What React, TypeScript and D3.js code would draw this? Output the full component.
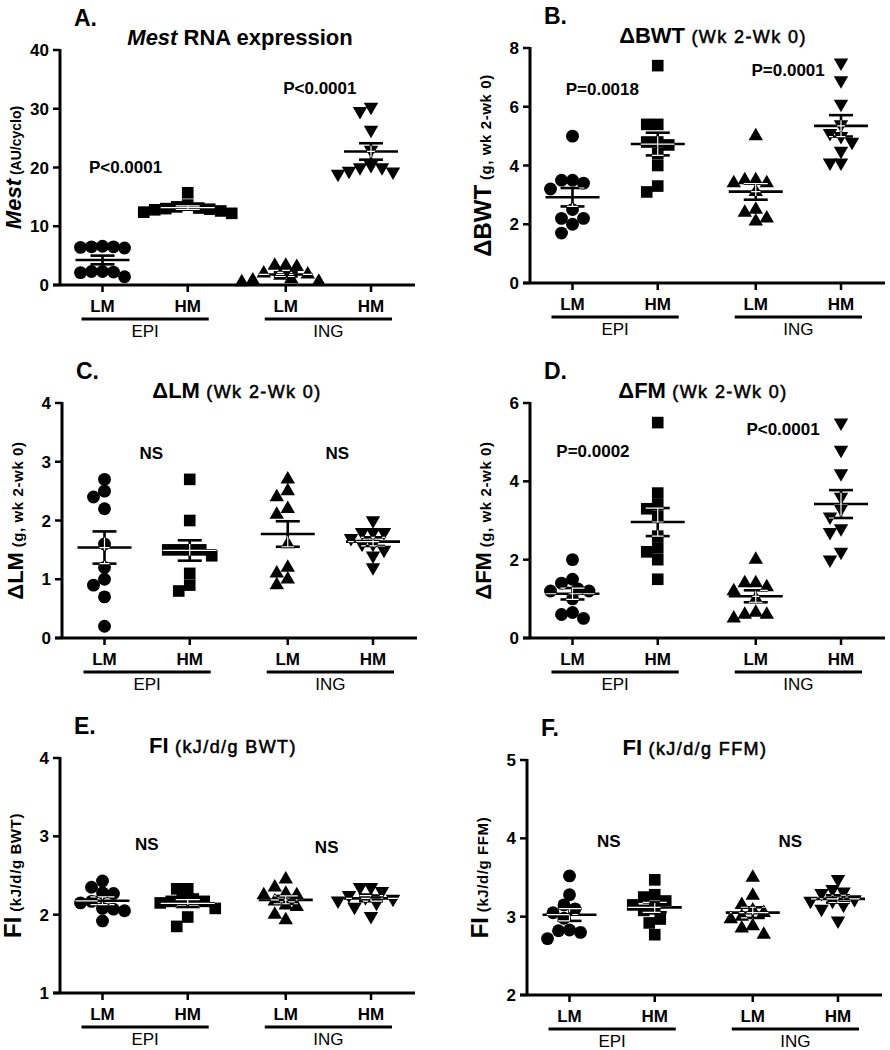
import React from 'react';
import * as d3 from 'd3';

const FONT = 'Arial, "Liberation Sans", Helvetica, sans-serif';

// x categories and tissue groups (shared by all panels)
const xCategories = ['LM', 'HM', 'LM', 'HM'];
const xGroups = ['EPI', 'ING'];

// A. Mest RNA expression (AU/cyclo)
const mestEpiLM = [6.5, 6.4, 6.6, 6.3, 6.5, 2.3, 2.2, 2.3, 2.1, 1.4];
const mestEpiHM = [15.7, 13.6, 13.3, 13.0, 12.8, 12.6, 12.4, 12.2, 12.9, 13.1];
const mestIngLM = [3.3, 3.1, 3.3, 2.0, 1.8, 1.6, 0.8, 0.5, 0.6, 1.0];
const mestIngHM = [30.3, 29.6, 26.4, 23.0, 20.4, 20.0, 19.3, 18.9, 19.4, 20.0];
const mestTicks = [0, 10, 20, 30, 40];

// B. delta BWT (g, wk 2 - wk 0)
const bwtEpiLM = [5.0, 3.5, 3.2, 3.4, 3.5, 2.5, 2.2, 2.2, 2.0, 1.7];
const bwtEpiHM = [7.4, 5.4, 5.4, 4.8, 4.7, 4.8, 4.4, 4.0, 3.3, 3.1];
const bwtIngLM = [5.0, 3.5, 3.4, 3.4, 3.5, 3.1, 2.5, 2.4, 2.1, 2.2];
const bwtIngHM = [7.5, 6.9, 6.1, 5.4, 5.0, 5.1, 4.8, 4.5, 4.1, 4.1];
const bwtTicks = [0, 2, 4, 6, 8];

// C. delta LM (g, wk 2 - wk 0)
const lmEpiLM = [2.7, 2.5, 2.4, 2.2, 1.6, 1.2, 1.0, 0.9, 0.7, 0.2];
const lmEpiHM = [2.7, 2.0, 1.5, 1.5, 1.5, 1.5, 1.4, 1.1, 0.9, 0.8];
const lmIngLM = [2.7, 2.5, 2.4, 2.2, 2.1, 1.6, 1.2, 1.1, 0.9, 1.0];
const lmIngHM = [2.0, 1.8, 1.8, 1.8, 1.7, 1.6, 1.6, 1.5, 1.4, 1.2];
const lmTicks = [0, 1, 2, 3, 4];

// D. delta FM (g, wk 2 - wk 0)
const fmEpiLM = [2.0, 1.4, 1.5, 1.25, 1.2, 1.2, 1.0, 0.65, 0.6, 0.5];
const fmEpiHM = [5.5, 3.7, 3.4, 3.3, 3.1, 2.6, 2.3, 2.2, 2.0, 1.5];
const fmIngLM = [2.0, 1.4, 1.4, 1.3, 1.2, 1.0, 0.6, 0.6, 0.5, 0.65];
const fmIngHM = [5.5, 4.8, 4.2, 3.6, 3.3, 3.1, 2.8, 2.7, 2.2, 2.0];
const fmTicks = [0, 2, 4, 6];

// E. FI (kJ/d/g BWT)
const fiBwtEpiLM = [2.43, 2.35, 2.28, 2.27, 2.17, 2.15, 2.07, 2.05, 2.08, 1.92];
const fiBwtEpiHM = [2.33, 2.33, 2.2, 2.2, 2.17, 2.17, 2.15, 2.08, 1.97, 1.85];
const fiBwtIngLM = [2.45, 2.35, 2.27, 2.25, 2.25, 2.17, 2.12, 2.1, 2.0, 1.93];
const fiBwtIngHM = [2.35, 2.35, 2.3, 2.25, 2.22, 2.2, 2.18, 2.15, 2.1, 1.98];
const fiBwtTicks = [1, 2, 3, 4];

// F. FI (kJ/d/g FFM)
const fiFfmEpiLM = [3.52, 3.28, 3.15, 3.1, 3.05, 2.98, 2.83, 2.82, 2.8, 2.72];
const fiFfmEpiHM = [3.47, 3.28, 3.25, 3.2, 3.15, 3.1, 3.08, 2.97, 2.92, 2.77];
const fiFfmIngLM = [3.5, 3.27, 3.15, 3.08, 3.05, 3.0, 2.97, 2.88, 2.85, 2.77];
const fiFfmIngHM = [3.48, 3.35, 3.32, 3.3, 3.22, 3.2, 3.2, 3.15, 3.1, 2.95];
const fiFfmTicks = [2, 3, 4, 5];

type Run = { text: string; size: number; bold?: boolean; italic?: boolean; spacing?: number; semi?: boolean };
type Note = { text: string; slot: number; value: number };
type Panel = {
  key: string;
  letter: string;
  title: Run[];
  yLabel: Run[];
  ticks: number[];
  series: number[][];
  notes: Note[];
  axisX: number;
  yTop: number;
  titleDx: number;
};

const big = (text: string, italic = false): Run => ({ text, size: 22, bold: true, italic });
const small = (text: string): Run => ({ text, size: 15, bold: true, spacing: 0.6 });
// the bracketed part of each title is a lighter, letter-spaced weight
const paren = (text: string): Run => ({ text, size: 18, semi: true, spacing: 1.4 });

const panels: Panel[] = [
  {
    key: 'a', letter: 'A.',
    title: [{ text: 'Mest', size: 22, bold: true, italic: true }, { text: ' RNA expression', size: 22, bold: true }],
    yLabel: [big('Mest', true), { text: ' (AU/cyclo)', size: 14, bold: true }],
    ticks: mestTicks,
    series: [mestEpiLM, mestEpiHM, mestIngLM, mestIngHM],
    notes: [{ text: 'P<0.0001', slot: 0.27, value: 19.1 }, { text: 'P<0.0001', slot: 2.55, value: 32.5 }],
    axisX: 60, yTop: 50, titleDx: 180,
  },
  {
    key: 'b', letter: 'B.',
    title: [big('\u0394BWT'), paren(' (Wk 2-Wk 0)')],
    yLabel: [{ ...big('\u0394BWT'), size: 24 }, small(' (g, wk 2-wk 0)')],
    ticks: bwtTicks,
    series: [bwtEpiLM, bwtEpiHM, bwtIngLM, bwtIngHM],
    notes: [{ text: 'P=0.0018', slot: 0.35, value: 6.4 }, { text: 'P=0.0001', slot: 2.53, value: 7.04 }],
    axisX: 530, yTop: 48, titleDx: 183,
  },
  {
    key: 'c', letter: 'C.',
    title: [big('\u0394LM'), paren(' (Wk 2-Wk 0)')],
    yLabel: [big('\u0394LM'), small(' (g, wk 2-wk 0)')],
    ticks: lmTicks,
    series: [lmEpiLM, lmEpiHM, lmIngLM, lmIngHM],
    notes: [{ text: 'NS', slot: 0.55, value: 3.04 }, { text: 'NS', slot: 2.73, value: 3.04 }],
    axisX: 62, yTop: 403, titleDx: 175,
  },
  {
    key: 'd', letter: 'D.',
    title: [big('\u0394FM'), paren(' (Wk 2-Wk 0)')],
    yLabel: [big('\u0394FM'), small(' (g, wk 2-wk 0)')],
    ticks: fmTicks,
    series: [fmEpiLM, fmEpiHM, fmIngLM, fmIngHM],
    notes: [{ text: 'P=0.0002', slot: 0.24, value: 4.63 }, { text: 'P<0.0001', slot: 2.47, value: 5.19 }],
    axisX: 530, yTop: 403, titleDx: 173,
  },
  {
    key: 'e', letter: 'E.',
    title: [big('FI'), paren(' (kJ/d/g BWT)')],
    yLabel: [{ ...big('FI'), size: 24 }, small(' (kJ/d/g BWT)')],
    ticks: fiBwtTicks,
    series: [fiBwtEpiLM, fiBwtEpiHM, fiBwtIngLM, fiBwtIngHM],
    notes: [{ text: 'NS', slot: 0.52, value: 2.83 }, { text: 'NS', slot: 2.63, value: 2.79 }],
    axisX: 60, yTop: 758, titleDx: 163,
  },
  {
    key: 'f', letter: 'F.',
    title: [big('FI'), paren(' (kJ/d/g FFM)')],
    yLabel: [{ ...big('FI'), size: 24 }, small(' (kJ/d/g FFM)')],
    ticks: fiFfmTicks,
    series: [fiFfmEpiLM, fiFfmEpiHM, fiFfmIngLM, fiFfmIngHM],
    notes: [{ text: 'NS', slot: 0.46, value: 3.89 }, { text: 'NS', slot: 2.59, value: 3.89 }],
    axisX: 527, yTop: 760, titleDx: 168,
  },
];

const PLOT_H = 235;
const AXIS_LEN = 355;
const SLOTS = [0, 1, 2.15, 3.15];
const SPREAD = 11;

const symbols = [d3.symbolCircle, d3.symbolSquare, d3.symbolTriangle, d3.symbolTriangle];
const symbolSizes = [130, 135, 90, 90];

// simple beeswarm: place points by value, nudging sideways to avoid overlaps
function swarm(values: number[], y: (v: number) => number) {
  const order = d3.range(values.length).sort((a, b) => values[b] - values[a]);
  const placed: [number, number][] = [];
  const offsets: number[] = new Array(values.length).fill(0);
  const candidates = [0];
  for (let k = 1; k < 12; k++) candidates.push(-k * SPREAD / 2, k * SPREAD / 2);
  order.forEach((i) => {
    const py = y(values[i]);
    const dx = candidates.find((c) =>
      placed.every(([qx, qy]) => Math.hypot(qx - c, qy - py) >= SPREAD)) ?? 0;
    placed.push([dx, py]);
    offsets[i] = dx;
  });
  return offsets;
}

const runs = (items: Run[]) =>
  items.map((r, i) => (
    <tspan key={i} fontSize={r.size} fontWeight={r.bold ? 'bold' : 'normal'}
      fontStyle={r.italic ? 'italic' : 'normal'} letterSpacing={r.spacing ?? 0}
      stroke={r.semi ? '#000' : 'none'} strokeWidth={r.semi ? 0.55 : 0}
      style={{ whiteSpace: 'pre' }}>{r.text}</tspan>
  ));

function PanelView({ p }: { p: Panel }) {
  const yBot = p.yTop + PLOT_H;
  const domain = d3.extent(p.ticks) as [number, number];
  const y = d3.scaleLinear().domain(domain).range([yBot, p.yTop]);
  const x = d3.scaleLinear().domain([0, 3.15]).range([p.axisX + 42.5, p.axisX + 311]);

  return (
    <g>
      <text x={p.axisX + 14} y={p.yTop - 24} fontSize={23} fontWeight="bold">{p.letter}</text>
      <text x={p.axisX + p.titleDx} y={p.yTop - 5} textAnchor="middle">{runs(p.title)}</text>
      <text transform={`translate(${p.axisX - 39},${(p.yTop + yBot) / 2}) rotate(-90)`}
        textAnchor="middle">{runs(p.yLabel)}</text>

      {/* y axis */}
      <line x1={p.axisX} x2={p.axisX} y1={p.yTop - 1} y2={yBot} stroke="#000" strokeWidth={3} />
      {p.ticks.map((t) => (
        <g key={t}>
          <line x1={p.axisX - 7} x2={p.axisX} y1={y(t)} y2={y(t)} stroke="#000" strokeWidth={2.5} />
          <text x={p.axisX - 11} y={y(t)} dy="0.36em" textAnchor="end" fontSize={17} fontWeight="bold">{t}</text>
        </g>
      ))}

      {/* x axis */}
      <line x1={p.axisX - 7} x2={p.axisX + AXIS_LEN} y1={yBot} y2={yBot} stroke="#000" strokeWidth={3} />
      {xCategories.map((c, i) => (
        <g key={i}>
          <line x1={x(SLOTS[i])} x2={x(SLOTS[i])} y1={yBot} y2={yBot + 7} stroke="#000" strokeWidth={2.5} />
          <text x={x(SLOTS[i])} y={yBot + 27} textAnchor="middle" fontSize={17} fontWeight="bold">{c}</text>
        </g>
      ))}
      {xGroups.map((g, gi) => {
        const x0 = x(SLOTS[gi * 2]) - 21;
        const x1 = x(SLOTS[gi * 2 + 1]) + 21;
        return (
          <g key={g}>
            <line x1={x0} x2={x1} y1={yBot + 34} y2={yBot + 34} stroke="#000" strokeWidth={3} />
            <text x={(x0 + x1) / 2} y={yBot + 52} textAnchor="middle" fontSize={17}>{g}</text>
          </g>
        );
      })}

      {/* points with mean +/- SEM */}
      {p.series.map((vals, si) => {
        const cx = x(SLOTS[si]);
        const offs = swarm(vals, y);
        const mean = d3.mean(vals) as number;
        const sem = (d3.deviation(vals) as number) / Math.sqrt(vals.length);
        const path = d3.symbol(symbols[si], symbolSizes[si])() as string;
        const rot = si === 3 ? ' rotate(180)' : '';
        const marks = vals.map((v, i) => (
          <path key={i} d={path} transform={`translate(${cx + offs[i]},${y(v)})${rot}`} />
        ));
        const clipId = `clip-${p.key}-${si}`;
        const bars = (w: number, color: string, clip?: string) => (
          <g stroke={color} strokeWidth={w} clipPath={clip}>
            <line x1={cx - 27} x2={cx + 27} y1={y(mean)} y2={y(mean)} />
            <line x1={cx} x2={cx} y1={y(mean + sem)} y2={y(mean - sem)} />
            <line x1={cx - 12} x2={cx + 12} y1={y(mean + sem)} y2={y(mean + sem)} />
            <line x1={cx - 12} x2={cx + 12} y1={y(mean - sem)} y2={y(mean - sem)} />
          </g>
        );
        return (
          <g key={si}>
            <clipPath id={clipId}>{marks}</clipPath>
            {bars(2.6, '#000')}
            <g fill="#000">{marks}</g>
            {bars(1.2, '#fff', `url(#${clipId})`)}
          </g>
        );
      })}

      {p.notes.map((n, i) => (
        <text key={i} x={x(n.slot)} y={y(n.value)} textAnchor="middle" fontSize={17} fontWeight="bold">{n.text}</text>
      ))}
    </g>
  );
}

export default function App() {
  return (
    <svg width={890} height={1050} fontFamily={FONT}
      style={{ position: 'absolute', left: 0, top: 0, background: '#fff' }}>
      {panels.map((p) => <PanelView key={p.key} p={p} />)}
    </svg>
  );
}
